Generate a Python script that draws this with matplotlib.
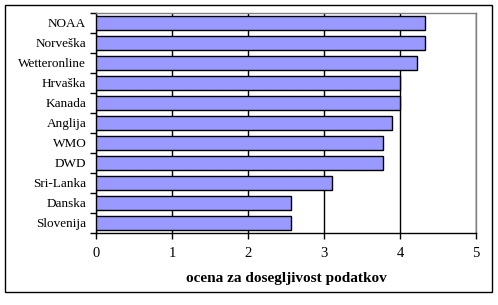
import matplotlib.pyplot as plt
from matplotlib.patches import Rectangle
import numpy as np

# data
labels = ['NOAA', 'Norveška', 'Wetteronline', 'Hrvaška', 'Kanada', 'Anglija',
          'WMO', 'DWD', 'Sri-Lanka', 'Danska', 'Slovenija']
ocena = [4.33, 4.33, 4.22, 4.0, 4.0, 3.89, 3.78, 3.78, 3.11, 2.56, 2.56]
xticks = [0, 1, 2, 3, 4, 5]
xlabel = 'ocena za dosegljivost podatkov'

plt.rcParams['font.family'] = ['Liberation Serif', 'DejaVu Serif']

fig = plt.figure(figsize=(4.98, 3.05), dpi=100)
ax = fig.add_axes([0.1928, 0.2361, 0.763, 0.7213])

y = np.arange(len(labels))
ax.barh(y, ocena, height=0.7, color='#9999FF', edgecolor='black', linewidth=1, zorder=3)

ax.set_xlim(0, 5)
ax.set_ylim(len(labels) - 0.5, -0.5)
ax.set_xticks(xticks)
ax.set_xticklabels([str(t) for t in xticks], fontsize=10.5)
ax.xaxis.grid(True, color='black', linewidth=1)
ax.set_axisbelow(True)

ax.set_yticks(y)
ax.set_yticklabels(labels, fontsize=9.5)
ax.set_yticks(np.arange(len(labels) + 1) - 0.5, minor=True)
ax.tick_params(axis='y', which='major', length=0, pad=7)
ax.tick_params(axis='y', which='minor', length=4, width=1, color='black')
ax.tick_params(axis='x', length=4, width=1, pad=6)

ax.set_xlabel(xlabel, fontsize=11, fontweight='bold', labelpad=9)

for s in ['top', 'right']:
    ax.spines[s].set_color('#808080')
for s in ['left', 'bottom']:
    ax.spines[s].set_color('black')
for s in ax.spines.values():
    s.set_linewidth(1)

fig.patches.append(Rectangle((0.011, 0.043), 0.976, 0.94, transform=fig.transFigure,
                             fill=False, edgecolor='black', linewidth=1))

fig.savefig('out.png', dpi=100)
